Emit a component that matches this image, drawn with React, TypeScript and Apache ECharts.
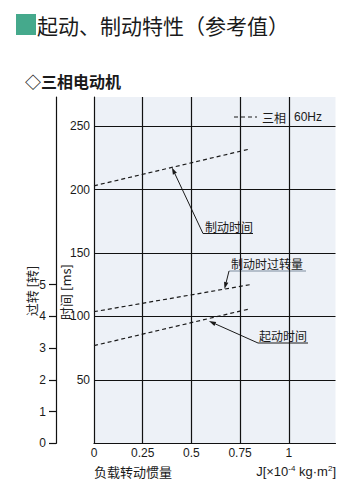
import React, { useEffect, useRef } from 'react';
import * as echarts from 'echarts';

// ---- data ----
const loadInertia = [0, 0.8]; // J [x10^-4 kg·m2]
const brakingTime = [203, 232]; // ms
const startingTime = [77, 106]; // ms
const overtravelTurns = [4.15, 5.0]; // turns
const xTickLabels = [0, 0.25, 0.5, 0.75, 1];
const msTickLabels = [50, 100, 150, 200, 250];
const turnTickLabels = [0, 1, 2, 3, 4, 5];

const MS_MAX = 273;
const MS_PER_TURN = 25;
const X_MAX = 1.24;

const NUM_FONT = '"Liberation Sans", Arial, "Noto Sans CJK SC", sans-serif';
const CJK_FONT = '"Noto Sans CJK SC", "Liberation Sans", sans-serif';
const INK = '#1a1a1a';

function arrow(from: number[], tip: number[], color: string) {
  const dx = tip[0] - from[0];
  const dy = tip[1] - from[1];
  const len = Math.sqrt(dx * dx + dy * dy) || 1;
  const ux = dx / len;
  const uy = dy / len;
  const hl = 7;
  const hw = 2.2;
  const bx = tip[0] - ux * hl;
  const by = tip[1] - uy * hl;
  return [
    {
      type: 'line',
      shape: { x1: from[0], y1: from[1], x2: bx, y2: by },
      style: { stroke: color, lineWidth: 1 },
      silent: true,
    },
    {
      type: 'polygon',
      shape: {
        points: [
          [tip[0], tip[1]],
          [bx - uy * hw, by + ux * hw],
          [bx + uy * hw, by - ux * hw],
        ],
      },
      style: { fill: color },
      silent: true,
    },
  ];
}

export default function App() {
  const ref = useRef<HTMLDivElement>(null);

  useEffect(() => {
    if (!ref.current) return;
    const chart = echarts.init(ref.current, null, { renderer: 'svg' });

    const dashed = { color: INK, width: 1.2, type: [4, 3] as any };
    const option: any = {
      animation: false,
      grid: {
        left: 94,
        top: 97,
        right: 23.5,
        bottom: 55.7,
        show: true,
        backgroundColor: '#edf1f7',
        borderWidth: 0,
      },
      xAxis: {
        type: 'value',
        min: 0,
        max: X_MAX,
        interval: 0.25,
        axisLine: { show: true, lineStyle: { color: '#111', width: 1.2 } },
        axisTick: { show: false },
        axisLabel: {
          color: INK,
          fontSize: 12,
          fontFamily: NUM_FONT,
          margin: 4,
          formatter: (v: number) => (xTickLabels.includes(v) ? String(v) : ''),
        },
        splitLine: { show: false },
      },
      yAxis: [
        {
          type: 'value',
          position: 'left',
          min: 0,
          max: MS_MAX,
          interval: 50,
          axisLine: { show: true, lineStyle: { color: '#111', width: 1.2 } },
          axisTick: { show: false },
          axisLabel: {
            color: INK,
            fontSize: 12,
            fontFamily: NUM_FONT,
            margin: 4,
            formatter: (v: number) => (msTickLabels.includes(v) ? String(v) : ''),
          },
          splitLine: { show: false },
        },
        {
          type: 'value',
          position: 'left',
          offset: 38,
          min: 0,
          max: MS_MAX / MS_PER_TURN,
          interval: 1,
          axisLine: { show: true, lineStyle: { color: '#111', width: 1.2 } },
          axisTick: {
            show: true,
            length: 7,
            customValues: turnTickLabels,
            lineStyle: { color: '#111', width: 1.2 },
          },
          axisLabel: {
            color: INK,
            fontSize: 12,
            fontFamily: NUM_FONT,
            margin: 10,
            customValues: turnTickLabels,
          },
          splitLine: { show: false },
        },
      ],
      series: [
        {
          name: '制动时间',
          type: 'line',
          yAxisIndex: 0,
          data: loadInertia.map((x, i) => [x, brakingTime[i]]),
          symbol: 'none',
          lineStyle: dashed,
          z: 3,
          markLine: {
            silent: true,
            symbol: ['none', 'none'],
            label: { show: false },
            emphasis: { disabled: true },
            lineStyle: { color: '#111', width: 1.2, type: 'solid' },
            data: [
              ...xTickLabels.filter((v) => v > 0).map((v) => ({ xAxis: v })),
              ...msTickLabels.map((v) => ({ yAxis: v })),
            ],
          },
        },
        {
          name: '起动时间',
          type: 'line',
          yAxisIndex: 0,
          data: loadInertia.map((x, i) => [x, startingTime[i]]),
          symbol: 'none',
          lineStyle: dashed,
          z: 3,
        },
        {
          name: '制动时过转量',
          type: 'line',
          yAxisIndex: 1,
          data: loadInertia.map((x, i) => [x, overtravelTurns[i]]),
          symbol: 'none',
          lineStyle: dashed,
          z: 3,
        },
      ],
    };
    chart.setOption(option);

    // annotation anchors computed through the chart's own scales
    const px = (x: number, y: number, yi = 0) =>
      chart.convertToPixel({ xAxisIndex: 0, yAxisIndex: yi } as any, [x, y]) as number[];
    const lerp = (arr: number[], x: number) =>
      arr[0] + ((arr[1] - arr[0]) * (x - loadInertia[0])) / (loadInertia[1] - loadInertia[0]);

    const brakeTip = px(0.4, lerp(brakingTime, 0.4));
    const startTip = px(0.59, lerp(startingTime, 0.59) - 2);
    const overTip = px(0.67, lerp(overtravelTurns, 0.67), 1);

    const cjkText = (text: string, x: number, y: number, size = 12, extra: any = {}) => ({
      type: 'text',
      x,
      y,
      silent: true,
      style: {
        text,
        fill: INK,
        fontSize: size,
        fontFamily: CJK_FONT,
        textAlign: 'left',
        textVerticalAlign: 'middle',
        ...extra,
      },
    });

    const vText = (text: string, x: number, y: number) => ({
      type: 'text',
      x,
      y,
      rotation: Math.PI / 2,
      silent: true,
      style: {
        text,
        fill: '#222222',
        fontSize: 13,
        fontFamily: CJK_FONT,
        textAlign: 'center',
        textVerticalAlign: 'middle',
      },
    });

    const graphics: any[] = [
      // title
      {
        type: 'rect',
        shape: { x: 16, y: 14, width: 20, height: 21 },
        style: { fill: '#45a98c' },
        silent: true,
      },
      cjkText('起动、制动特性（参考值）', 37, 25, 21),
      cjkText('◇三相电动机', 25, 81, 16, { fontWeight: 'bold' }),
      // vertical axis names
      vText('过转 [转]', 31, 291),
      vText('时间 [ms]', 65, 292),
      // x axis names
      cjkText('负载转动惯量', 94, 471, 13),
      {
        type: 'text',
        x: 336,
        y: 471,
        silent: true,
        style: {
          text: '{a|J[×10}{s|-4}{a| kg·m}{s|2}{a|]}',
          textAlign: 'right',
          textVerticalAlign: 'middle',
          rich: {
            a: { fontSize: 13, fontFamily: NUM_FONT, fill: INK },
            s: { fontSize: 8, fontFamily: NUM_FONT, fill: INK, verticalAlign: 'top', padding: [0, 0, 6, 0] },
          },
        },
      },
      // legend
      {
        type: 'line',
        shape: { x1: 234, y1: 117, x2: 257, y2: 117 },
        style: { stroke: INK, lineWidth: 1.2, lineDash: [4, 3] },
        silent: true,
      },
      cjkText('三相', 262, 117, 12),
      {
        type: 'text',
        x: 294,
        y: 117,
        silent: true,
        style: {
          text: '60Hz',
          fill: INK,
          fontSize: 12,
          fontFamily: NUM_FONT,
          textAlign: 'left',
          textVerticalAlign: 'middle',
        },
      },
      // annotation: braking time
      cjkText('制动时间', 205, 226, 12),
      {
        type: 'line',
        shape: { x1: 203, y1: 233.5, x2: 253, y2: 233.5 },
        style: { stroke: INK, lineWidth: 1 },
        silent: true,
      },
      ...arrow([203, 233.5], brakeTip, INK),
      // annotation: overtravel
      cjkText('制动时过转量', 231, 263, 12),
      {
        type: 'line',
        shape: { x1: 229, y1: 271, x2: 306, y2: 271 },
        style: { stroke: '#7f8da0', lineWidth: 1.2 },
        silent: true,
      },
      ...arrow([229, 271], overTip, INK),
      // annotation: starting time
      cjkText('起动时间', 259, 335, 12),
      {
        type: 'line',
        shape: { x1: 258, y1: 343, x2: 308, y2: 343 },
        style: { stroke: INK, lineWidth: 1 },
        silent: true,
      },
      ...arrow([258, 343], startTip, INK),
    ];

    chart.setOption({ graphic: graphics });

    return () => {
      chart.dispose();
    };
  }, []);

  return (
    <div
      ref={ref}
      style={{ position: 'fixed', left: 0, top: 0, width: 359, height: 499, background: '#fff' }}
    />
  );
}
